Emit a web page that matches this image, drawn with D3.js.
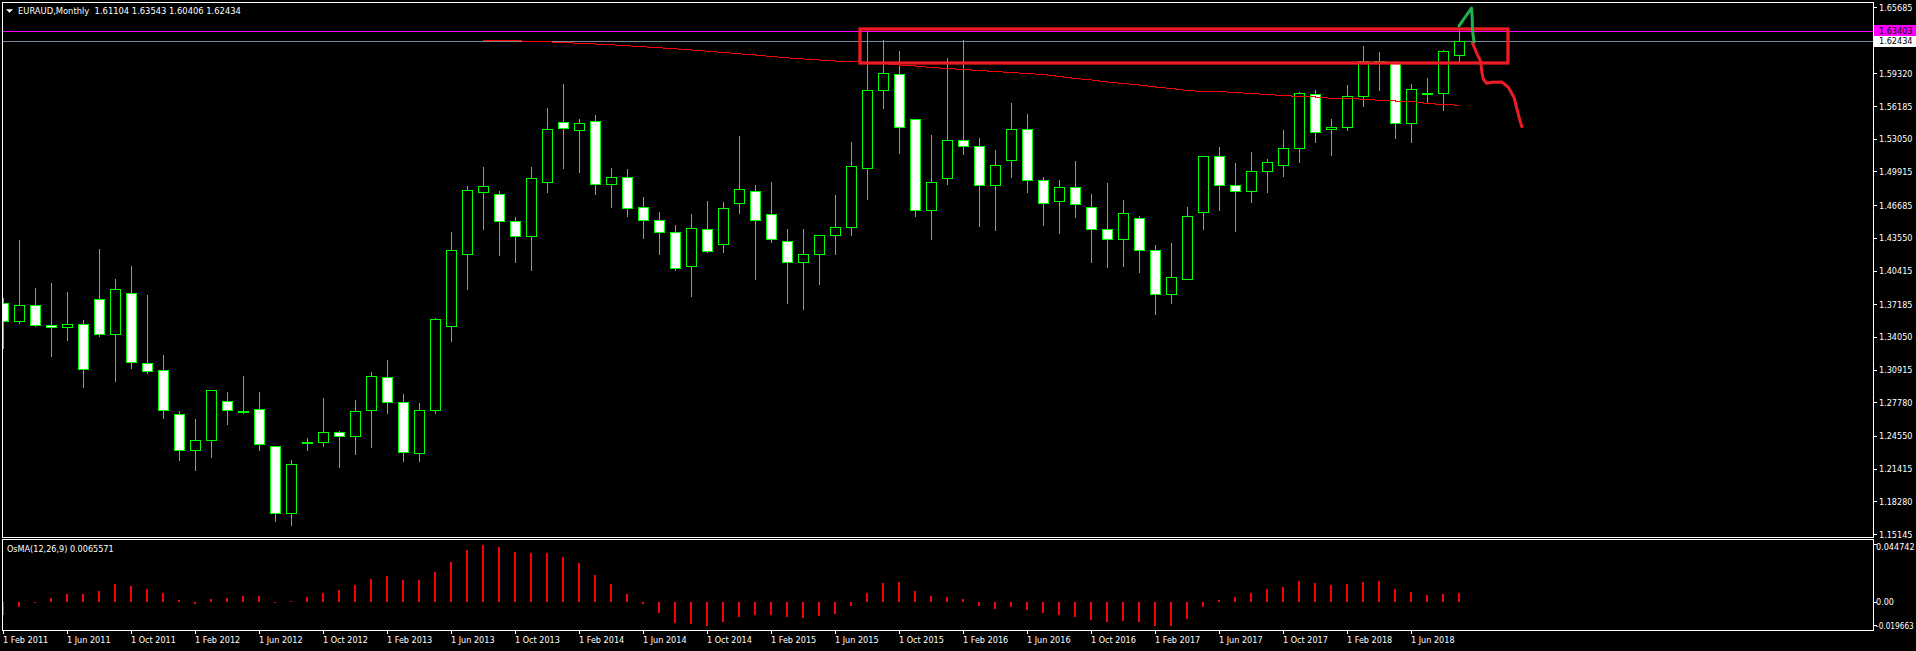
<!DOCTYPE html>
<html><head><meta charset="utf-8">
<script src="https://cdn.jsdelivr.net/npm/d3@7"></script>
<style>
html,body{margin:0;padding:0;background:#000;overflow:hidden}
svg{display:block}
text{font-family:'DejaVu Sans Condensed','DejaVu Sans',sans-serif;font-stretch:condensed;font-size:9px;fill:#fff;white-space:pre}
</style></head><body>
<script>
// ---- data (monthly EURAUD, Feb 2011 .. Sep 2018) ----
const opens  = [1.3727,1.3554,1.3707,1.3516,1.3496,1.3525,1.3765,1.3429,1.3822,1.3151,1.3084,1.2662,1.2317,1.2413,1.2787,1.2697,1.2710,1.2355,1.1712,1.2387,1.2393,1.2489,1.2451,1.2700,1.3017,1.2777,1.2288,1.2700,1.3506,1.4196,1.4798,1.4772,1.4513,1.4369,1.4887,1.5462,1.5386,1.5472,1.4868,1.4935,1.4647,1.4523,1.4408,1.4081,1.4436,1.4292,1.4686,1.4801,1.4580,1.4321,1.4120,1.4196,1.4379,1.4455,1.5021,1.5769,1.5923,1.5491,1.4618,1.4925,1.5290,1.5232,1.4858,1.5098,1.5395,1.4906,1.4705,1.4839,1.4647,1.4436,1.4340,1.4542,1.4235,1.3813,1.3957,1.4599,1.5136,1.4858,1.4801,1.4993,1.5050,1.5213,1.5731,1.5395,1.5415,1.5712,1.6046,1.6028,1.5453,1.5746,1.5741,1.61104];
const highs  = [1.3784,1.4344,1.3880,1.3928,1.3845,1.3576,1.4257,1.3966,1.4094,1.3816,1.3241,1.2704,1.2627,1.2892,1.2886,1.3039,1.2886,1.2365,1.2233,1.2444,1.2828,1.2512,1.2809,1.3078,1.3193,1.2867,1.2780,1.3595,1.4420,1.4861,1.5040,1.4810,1.4564,1.5040,1.5609,1.5840,1.5504,1.5542,1.5034,1.5025,1.4756,1.4612,1.4487,1.4593,1.4718,1.4708,1.5341,1.4871,1.4900,1.4449,1.4449,1.4392,1.4775,1.5283,1.6350,1.6262,1.6156,1.5501,1.5347,1.6089,1.6262,1.5322,1.5207,1.5654,1.5549,1.4945,1.4916,1.5098,1.4782,1.4887,1.4724,1.4570,1.4292,1.4312,1.4657,1.5136,1.5232,1.5079,1.5184,1.5117,1.5395,1.5760,1.5779,1.5501,1.5827,1.6201,1.6143,1.6057,1.5836,1.5894,1.6163,1.63543];
const lows   = [1.3301,1.3541,1.3509,1.3225,1.3378,1.2927,1.3416,1.2985,1.3110,1.3062,1.2630,1.2227,1.2131,1.2256,1.2572,1.2672,1.2323,1.1642,1.1604,1.2323,1.2362,1.2160,1.2285,1.2352,1.2678,1.2218,1.2218,1.2678,1.3368,1.3864,1.4443,1.4193,1.4126,1.4049,1.4798,1.5028,1.4989,1.4778,1.4654,1.4567,1.4356,1.4203,1.4049,1.3800,1.4222,1.4222,1.4596,1.3963,1.4318,1.3733,1.3675,1.3915,1.4203,1.4385,1.4730,1.5603,1.5171,1.4568,1.4347,1.4874,1.5162,1.4471,1.4433,1.4941,1.4798,1.4481,1.4404,1.4558,1.4126,1.4078,1.4088,1.4030,1.3627,1.3733,1.3957,1.4443,1.4625,1.4423,1.4702,1.4798,1.4951,1.5085,1.5277,1.5152,1.5392,1.5622,1.5776,1.5315,1.5277,1.5661,1.5584,1.60406];
const closes = [1.3554,1.3707,1.3516,1.3500,1.3525,1.3094,1.3429,1.3861,1.3161,1.3074,1.2700,1.2317,1.2413,1.2892,1.2700,1.2694,1.2374,1.1712,1.2182,1.2392,1.2489,1.2451,1.2691,1.3026,1.2777,1.2298,1.2700,1.3573,1.4235,1.4810,1.4849,1.4513,1.4369,1.4925,1.5395,1.5405,1.5453,1.4868,1.4935,1.4638,1.4523,1.4408,1.4062,1.4446,1.4232,1.4638,1.4820,1.4523,1.4340,1.4120,1.4196,1.4379,1.4455,1.5040,1.5769,1.5932,1.5414,1.4618,1.4887,1.5290,1.5232,1.4858,1.5050,1.5395,1.4906,1.4686,1.4839,1.4676,1.4436,1.4340,1.4590,1.4235,1.3813,1.3976,1.4561,1.5136,1.4858,1.4801,1.4993,1.5079,1.5213,1.5741,1.5366,1.5415,1.5712,1.6047,1.6047,1.5453,1.5779,1.5748,1.6143,1.62434];
const osmaValues = [-0.0091,-0.0038,-0.0008,0.0027,0.0056,0.0056,0.0078,0.0129,0.0114,0.0093,0.0064,0.0015,-0.0012,0.0020,0.0027,0.0042,0.0042,-0.0007,0.0004,0.0034,0.0064,0.0085,0.0121,0.0165,0.0187,0.0158,0.0158,0.0216,0.0288,0.0375,0.0411,0.0397,0.0360,0.0353,0.0353,0.0324,0.0281,0.0194,0.0129,0.0056,-0.0014,-0.0081,-0.0153,-0.0158,-0.0173,-0.0144,-0.0110,-0.0096,-0.0096,-0.0110,-0.0115,-0.0101,-0.0086,-0.0028,0.0064,0.0136,0.0143,0.0078,0.0042,0.0034,0.0020,-0.0028,-0.0052,-0.0038,-0.0057,-0.0081,-0.0096,-0.0110,-0.0129,-0.0144,-0.0139,-0.0144,-0.0173,-0.0173,-0.0125,-0.0038,0.0012,0.0034,0.0064,0.0093,0.0107,0.0150,0.0136,0.0121,0.0129,0.0143,0.0150,0.0093,0.0071,0.0049,0.0056,0.0065571];
const maStartIndex = 30;
const maValues = [1.62520,1.62491,1.62443,1.62395,1.62347,1.62280,1.62203,1.62136,1.62059,1.61964,1.61868,1.61772,1.61676,1.61561,1.61446,1.61321,1.61197,1.61081,1.60937,1.60813,1.60698,1.60602,1.60506,1.60458,1.60381,1.60266,1.60122,1.60026,1.59882,1.59786,1.59690,1.59594,1.59498,1.59402,1.59306,1.59211,1.59019,1.58827,1.58684,1.58492,1.58348,1.58204,1.58012,1.57868,1.57676,1.57580,1.57580,1.57484,1.57389,1.57293,1.57197,1.57101,1.57053,1.56928,1.56928,1.56833,1.56737,1.56670,1.56622,1.56430,1.56334,1.56257];
const priceTicks = [1.65685,1.59320,1.56185,1.53050,1.49915,1.46685,1.43550,1.40415,1.37185,1.34050,1.30915,1.27780,1.24550,1.21415,1.18280,1.15145];
const priceTickLabels = ["1.65685","1.59320","1.56185","1.53050","1.49915","1.46685","1.43550","1.40415","1.37185","1.34050","1.30915","1.27780","1.24550","1.21415","1.18280","1.15145"];
const osmaMax = 0.0447424, osmaMin = -0.0196632;
const osmaTickLabels = ["0.044742","0.00","-0.019663"];
const dateTickIndex = [0,4,8,12,16,20,24,28,32,36,40,44,48,52,56,60,64,68,72,76,80,84,88];
const dateTickLabels = ["1 Feb 2011","1 Jun 2011","1 Oct 2011","1 Feb 2012","1 Jun 2012","1 Oct 2012","1 Feb 2013","1 Jun 2013","1 Oct 2013","1 Feb 2014","1 Jun 2014","1 Oct 2014","1 Feb 2015","1 Jun 2015","1 Oct 2015","1 Feb 2016","1 Jun 2016","1 Oct 2016","1 Feb 2017","1 Jun 2017","1 Oct 2017","1 Feb 2018","1 Jun 2018"];
const titleText = "EURAUD,Monthly  1.61104 1.63543 1.60406 1.62434";
const osmaTitle = "OsMA(12,26,9) 0.0065571";
const levelPrice = 1.63403, levelLabel = "1.63403";
const bidPrice = 1.62434, bidLabel = "1.62434";
// hand-drawn annotations (bar index, price)
const boxIndex = [53.53, 94.03];
const boxPrice = [1.63577, 1.60317];
const greenIndex = [90.97, 91.75, 91.80, 91.81, 91.91];
const greenPrice = [1.63865, 1.65591, 1.64440, 1.63481, 1.62330];
const redIndex = [91.80,92.08,92.33,92.39,92.49,92.70,93.01,93.64,94.05,94.26,94.43,94.58,94.74,94.89];
const redPrice = [1.62263,1.61247,1.60441,1.59482,1.58753,1.58369,1.58465,1.58494,1.57986,1.57411,1.56931,1.55972,1.55013,1.54207];

// ---- layout ----
const W = 1916, H = 651;
const L = 2, R = 1873, mainTop = 2, mainBot = 537, oTop = 539, oBot = 630;

const svg = d3.select("body").append("svg").attr("width", W).attr("height", H).style("background", "#000");

const x = d3.scaleLinear().domain([0, 91]).range([3.5, 1459.5]);
const y = d3.scaleLinear().domain([1.15145, 1.65685]).range([534, 7]);
const yo = d3.scaleLinear().domain([osmaMin, osmaMax]).range([629, 540]);
const px = v => Math.round(v) + 0.5;

const defs = svg.append("defs");
defs.append("clipPath").attr("id", "mainClip").append("rect").attr("x", L + 1).attr("y", mainTop + 1).attr("width", R - L - 1).attr("height", mainBot - mainTop - 1);
defs.append("clipPath").attr("id", "oClip").append("rect").attr("x", L + 1).attr("y", oTop + 1).attr("width", R - L - 1).attr("height", oBot - oTop - 1);

// frames
svg.append("rect").attr("x", L + 0.5).attr("y", mainTop + 0.5).attr("width", R - L).attr("height", mainBot - mainTop).attr("fill", "none").attr("stroke", "#fff").attr("shape-rendering", "crispEdges");
svg.append("rect").attr("x", L + 0.5).attr("y", oTop + 0.5).attr("width", R - L).attr("height", oBot - oTop).attr("fill", "none").attr("stroke", "#fff").attr("shape-rendering", "crispEdges");

const main = svg.append("g").attr("clip-path", "url(#mainClip)").attr("shape-rendering", "crispEdges");

// horizontal level lines
main.append("line").attr("x1", L).attr("x2", R).attr("y1", px(y(levelPrice))).attr("y2", px(y(levelPrice))).attr("stroke", "#ff00ff");
main.append("line").attr("x1", L).attr("x2", R).attr("y1", px(y(bidPrice))).attr("y2", px(y(bidPrice))).attr("stroke", "#778899");

// candles
const idx = d3.range(opens.length);
main.append("g").selectAll("line").data(idx).join("line")
  .attr("x1", i => x(i)).attr("x2", i => x(i))
  .attr("y1", i => px(y(highs[i]))).attr("y2", i => px(y(lows[i])))
  .attr("stroke", "#00ff00");
main.append("g").selectAll("rect").data(idx).join("rect")
  .attr("x", i => x(i) - 5).attr("width", 10)
  .attr("y", i => px(y(Math.max(opens[i], closes[i]))))
  .attr("height", i => Math.max(1, Math.round(y(Math.min(opens[i], closes[i]))) - Math.round(y(Math.max(opens[i], closes[i])))))
  .attr("fill", i => closes[i] >= opens[i] ? "#000" : "#fff")
  .attr("stroke", "#00ff00");

// moving average
const maLine = d3.line().x((d, k) => x(maStartIndex + k)).y(d => y(d));
main.append("path").attr("d", maLine(maValues)).attr("fill", "none").attr("stroke", "#ff0000").attr("stroke-width", 1);

// annotations
const ann = svg.append("g").attr("clip-path", "url(#mainClip)");
ann.append("rect")
  .attr("x", x(boxIndex[0])).attr("y", y(boxPrice[0]))
  .attr("width", x(boxIndex[1]) - x(boxIndex[0])).attr("height", y(boxPrice[1]) - y(boxPrice[0]))
  .attr("fill", "none").attr("stroke", "#ed1c24").attr("stroke-width", 3.3);
const freeLine = d3.line().x(d => x(d[0])).y(d => y(d[1]));
ann.append("path").attr("d", freeLine(redIndex.map((v, k) => [v, redPrice[k]])))
  .attr("fill", "none").attr("stroke", "#ed1c24").attr("stroke-width", 3).attr("stroke-linejoin", "round").attr("stroke-linecap", "round");
ann.append("path").attr("d", freeLine(greenIndex.map((v, k) => [v, greenPrice[k]])))
  .attr("fill", "none").attr("stroke", "#22b14c").attr("stroke-width", 3).attr("stroke-linejoin", "round").attr("stroke-linecap", "round");

// title
svg.append("path").attr("d", "M6.5,9.5 L12.5,9.5 L9.5,12.5 Z").attr("fill", "#fff").attr("stroke", "#fff").attr("stroke-width", 0.5);
svg.append("text").attr("x", 18).attr("y", 14).style("font-size", "9.3px").text(titleText);

// price axis
const pa = svg.append("g").attr("shape-rendering", "crispEdges");
pa.selectAll("line").data(priceTicks).join("line")
  .attr("x1", R).attr("x2", R + 4).attr("y1", d => px(y(d))).attr("y2", d => px(y(d))).attr("stroke", "#fff");
svg.append("g").selectAll("text").data(priceTicks).join("text")
  .attr("x", 1879).attr("y", d => y(d) + 3.5).text((d, k) => priceTickLabels[k]);

// level labels
const lv = svg.append("g");
lv.append("rect").attr("x", R + 1).attr("y", Math.round(y(levelPrice)) - 6).attr("width", W - R).attr("height", 11).attr("fill", "#ff00ff");
lv.append("text").attr("x", 1879).attr("y", y(levelPrice) + 3.5).style("fill", "#000").text(levelLabel);
lv.append("rect").attr("x", R + 1).attr("y", Math.round(y(bidPrice)) - 5).attr("width", W - R).attr("height", 11).attr("fill", "#fff");
lv.append("text").attr("x", 1879).attr("y", y(bidPrice) + 3.5).style("fill", "#000").text(bidLabel);

// OsMA
const og = svg.append("g").attr("clip-path", "url(#oClip)").attr("shape-rendering", "crispEdges");
og.selectAll("rect").data(idx).join("rect")
  .attr("x", i => Math.floor(x(i)) - 1).attr("width", 2)
  .attr("y", i => Math.round(Math.min(yo(0), yo(osmaValues[i]))))
  .attr("height", i => Math.max(1, Math.round(Math.abs(yo(osmaValues[i]) - yo(0)))))
  .attr("fill", "#ff0000");
svg.append("text").attr("x", 7).attr("y", 552).text(osmaTitle);
const oTicksY = [yo(osmaMax) + 4, yo(0), yo(osmaMin) - 4];
svg.append("g").attr("shape-rendering", "crispEdges").selectAll("line").data(oTicksY).join("line")
  .attr("x1", R).attr("x2", R + 4).attr("y1", d => px(d)).attr("y2", d => px(d)).attr("stroke", "#fff");
svg.append("g").selectAll("text").data(oTicksY).join("text")
  .attr("x", 1876).attr("y", (d, k) => d + (k === 0 ? 6 : 3.5))
  .style("font-size", (d, k) => k === 2 ? "8.2px" : null)
  .text((d, k) => osmaTickLabels[k]);

// time axis
const ta = svg.append("g").attr("shape-rendering", "crispEdges");
ta.selectAll("line").data(dateTickIndex).join("line")
  .attr("x1", i => x(i)).attr("x2", i => x(i)).attr("y1", oBot).attr("y2", oBot + 4).attr("stroke", "#fff");
svg.append("g").selectAll("text").data(dateTickIndex).join("text")
  .attr("x", i => x(i) - 0.5).attr("y", 643).text((d, k) => dateTickLabels[k]);
</script>
</body></html>
